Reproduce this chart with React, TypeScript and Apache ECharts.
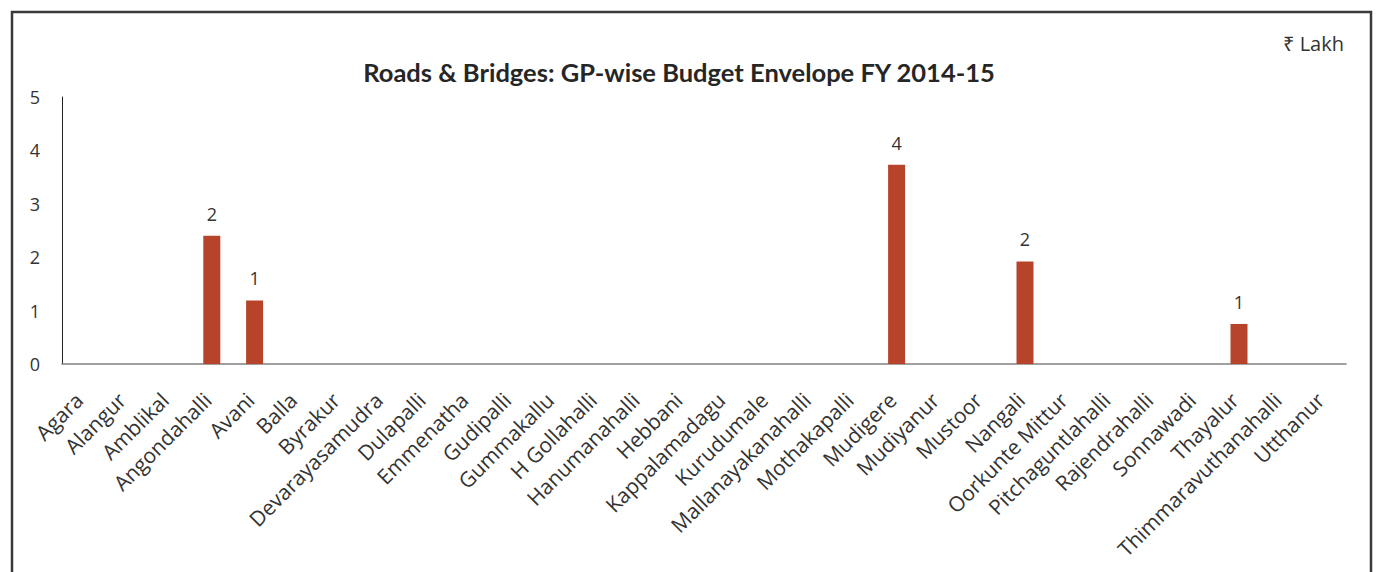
import React, { useEffect, useRef } from "react";
import * as echarts from "echarts";

const categories = [
  "Agara", "Alangur", "Amblikal", "Angondahalli", "Avani", "Balla", "Byrakur",
  "Devarayasamudra", "Dulapalli", "Emmenatha", "Gudipalli", "Gummakallu",
  "H Gollahalli", "Hanumanahalli", "Hebbani", "Kappalamadagu", "Kurudumale",
  "Mallanayakanahalli", "Mothakapalli", "Mudigere", "Mudiyanur", "Mustoor",
  "Nangali", "Oorkunte Mittur", "Pitchaguntlahalli", "Rajendrahalli",
  "Sonnawadi", "Thayalur", "Thimmaravuthanahalli", "Utthanur",
];

const values: (number | null)[] = [
  null, null, null, 2.4, 1.19, null, null, null, null, null, null, null,
  null, null, null, null, null, null, null, 3.73, null, null, 1.92, null,
  null, null, null, 0.75, null, null,
];

const yTicks = [0, 1, 2, 3, 4, 5];

const title = "Roads & Bridges: GP-wise Budget Envelope FY 2014-15";
const unitLabel = "₹ Lakh";

export default function App() {
  const ref = useRef<HTMLDivElement>(null);
  useEffect(() => {
    if (!ref.current) return;
    const chart = echarts.init(ref.current, null, { renderer: "svg" });
    chart.setOption({
      animation: false,
      textStyle: { fontFamily: "Open Sans" },
      graphic: [
        {
          type: "rect",
          shape: { x: 12, y: 12, width: 1359, height: 620 },
          style: { fill: "none", stroke: "#3a3a3a", lineWidth: 2.5 },
          silent: true,
        },
        {
          type: "text",
          x: 1344,
          y: 43,
          style: {
            text: unitLabel,
            fontSize: 20,
            fontFamily: "Open Sans",
            fill: "#333",
            textAlign: "right",
            textVerticalAlign: "middle",
          },
        },
        {
          type: "text",
          x: 679,
          y: 72,
          style: {
            text: title,
            fontSize: 25.5,
            fontWeight: "bold",
            fontFamily: "Lato",
            fill: "#262626",
            textAlign: "center",
            textVerticalAlign: "middle",
          },
        },
      ],
      grid: { left: 62, right: 32, top: 97, bottom: 208, containLabel: false },
      xAxis: {
        type: "category",
        data: categories,
        axisLine: { show: true, lineStyle: { color: "#808080", width: 1.5 } },
        axisTick: { show: false },
        axisLabel: {
          interval: 0,
          rotate: 45,
          fontSize: 21,
          color: "#333",
          margin: 28,
          padding: [0, 6, 0, 0],
          fontFamily: "Open Sans",
        },
      },
      yAxis: {
        type: "value",
        min: 0,
        max: 5,
        interval: 1,
        axisLine: { show: true, lineStyle: { color: "#222", width: 1 } },
        axisTick: { show: false },
        splitLine: { show: false },
        axisLabel: {
          fontSize: 18,
          color: "#333",
          margin: 22,
          fontFamily: "Open Sans",
          formatter: (v: number) => (yTicks.includes(v) ? String(v) : ""),
        },
      },
      series: [
        {
          type: "bar",
          data: values,
          barWidth: 17,
          itemStyle: { color: "#b7442a" },
          label: {
            show: true,
            position: "top",
            distance: 13,
            fontSize: 18,
            color: "#333",
            fontFamily: "Open Sans",
            formatter: (p: any) => String(Math.round(p.value)),
          },
        },
      ],
    });
    return () => chart.dispose();
  }, []);
  return (
    <div
      ref={ref}
      style={{ position: "fixed", left: 0, top: 0, width: 1378, height: 572, background: "#fff" }}
    />
  );
}
